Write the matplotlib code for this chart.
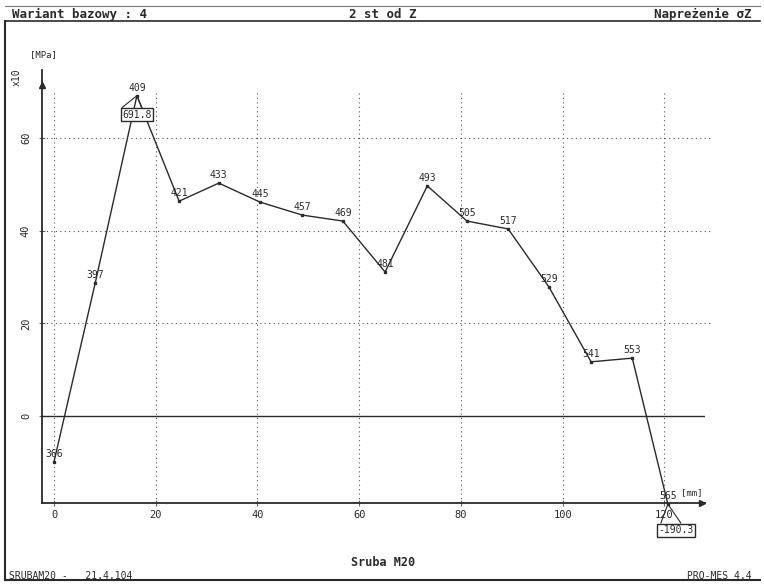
import matplotlib
matplotlib.use('Agg')
import matplotlib.pyplot as plt
from matplotlib.transforms import offset_copy

# node numbers, position along bolt [mm], stress sigma_Z [x10 MPa]
nodes = [366, 397, 409, 421, 433, 445, 457, 469, 481, 493, 505, 517, 529, 541, 553, 565]
pos_mm = [0.0, 8.1, 16.3, 24.6, 32.4, 40.5, 48.8, 56.8, 65.1, 73.4, 81.2, 89.3, 97.3, 105.6, 113.7, 120.7]
stress = [-9.9, 28.7, 69.18, 46.4, 50.3, 46.2, 43.4, 42.1, 31.1, 49.7, 42.1, 40.4, 27.9, 11.7, 12.5, -19.03]
x_ticks = [0, 20, 40, 60, 80, 100, 120]
y_ticks = [0, 20, 40, 60]

W, H = 764, 585
mono = 'DejaVu Sans Mono'
ink = '#2a2a2a'

fig = plt.figure(figsize=(W / 100, H / 100), dpi=100)
fig.patch.set_facecolor('white')


def fx(px):
    return px / W


def fy(py):
    return 1 - py / H


# page frame lines
fig.add_artist(plt.Line2D([fx(5), fx(760)], [fy(6), fy(6)], color='#777777', lw=0.8))
fig.add_artist(plt.Line2D([fx(5), fx(760)], [fy(21), fy(21)], color=ink, lw=1.2))
fig.add_artist(plt.Line2D([fx(5), fx(5)], [fy(21), fy(580)], color=ink, lw=1.5))
fig.add_artist(plt.Line2D([fx(5), fx(760)], [fy(580), fy(580)], color=ink, lw=1.5))

# header
fig.text(fx(12), fy(14), 'Wariant bazowy : 4', family=mono, weight='bold', fontsize=9,
         va='center', color=ink)
fig.text(fx(383), fy(14), '2 st od Z', family=mono, weight='bold', fontsize=9,
         va='center', ha='center', color=ink)
fig.text(fx(752), fy(14), 'Napreżenie σZ', family=mono, weight='bold', fontsize=9,
         va='center', ha='right', color=ink)

# footer
fig.text(fx(383), fy(563), 'Sruba M20', family=mono, weight='bold', fontsize=8.5,
         va='center', ha='center', color=ink)
fig.text(fx(9), fy(576), 'SRUBAM20 -   21.4.104', family=mono, fontsize=7,
         va='center', color=ink)
fig.text(fx(752), fy(576), 'PRO-MES 4.4', family=mono, fontsize=7,
         va='center', ha='right', color=ink)

# plot area
ax = fig.add_axes([fx(42), fy(503), (705 - 42) / W, (503 - 70) / H])
ax.set_xlim(-2.36, 128.0)
ax.set_ylim(-18.79, 74.73)
ax.patch.set_alpha(0)
for s in ['top', 'right']:
    ax.spines[s].set_visible(False)
for s in ['left', 'bottom']:
    ax.spines[s].set_color(ink)
    ax.spines[s].set_linewidth(1.3)

# grid
for xv in x_ticks:
    ax.plot([xv, xv], [-18.79, 70], ls=(0, (1, 3)), color='#555555', lw=0.8)
for yv in y_ticks[1:]:
    ax.plot([-2.36, 129.5], [yv, yv], ls=(0, (1, 3)), color='#555555', lw=0.8, clip_on=False)
ax.axhline(0, color=ink, lw=1.0, xmax=1.0)

ax.set_xticks(x_ticks)
ax.set_yticks(y_ticks)
ax.tick_params(axis='both', direction='inout', length=4, width=0.8, color='#666666',
               labelsize=7.5, labelcolor=ink)
ax.tick_params(axis='x', pad=3)
for lab in ax.get_xticklabels():
    lab.set_family(mono)
for lab in ax.get_yticklabels():
    lab.set_family(mono)
    lab.set_rotation(90)
    lab.set_va('center')
ax.tick_params(axis='y', pad=6)

# axis arrows
ax.plot([-2.36], [71.5], marker='^', ms=4, color=ink, clip_on=False)
ax.plot([127.5], [-18.79], marker='>', ms=4, color=ink, clip_on=False)

# data line
ax.plot(pos_mm, stress, color=ink, lw=1.0, marker='s', ms=2, clip_on=False)

# node labels
lab_tr = offset_copy(ax.transData, fig=fig, x=0, y=3, units='dots')
for n, xv, yv in zip(nodes, pos_mm, stress):
    ax.text(xv, yv, str(n), transform=lab_tr, ha='center', va='bottom',
            family=mono, fontsize=7, color=ink)

# max / min value boxes
i_max = stress.index(max(stress))
i_min = stress.index(min(stress))
for i, dy, dxb in [(i_max, -19, 0), (i_min, -26, 8)]:
    xv, yv = pos_mm[i], stress[i]
    val = stress[i] * 10
    for dx in [-15, 5]:
        ax.annotate('', xy=(xv, yv), xytext=(dx + dxb, dy + 7), textcoords='offset pixels',
                    arrowprops=dict(arrowstyle='-', color=ink, lw=0.8,
                                    shrinkA=0, shrinkB=0), annotation_clip=False)
    ax.annotate('%.1f' % val, xy=(xv, yv), xytext=(dxb, dy), textcoords='offset pixels',
                ha='center', va='center', family=mono, fontsize=7, color=ink,
                bbox=dict(boxstyle='square,pad=0.15', fc='white', ec=ink, lw=1.0),
                annotation_clip=False)

# unit labels
fig.text(fx(43), fy(55), '[MPa]', family=mono, fontsize=6.5, ha='center', va='center', color=ink)
fig.text(fx(17), fy(77), 'x10', family=mono, fontsize=7, ha='center', va='center',
         rotation=90, color=ink)
fig.text(fx(692), fy(493), '[mm]', family=mono, fontsize=6.5, ha='center', va='center', color=ink)

fig.savefig('out.png', dpi=100)
